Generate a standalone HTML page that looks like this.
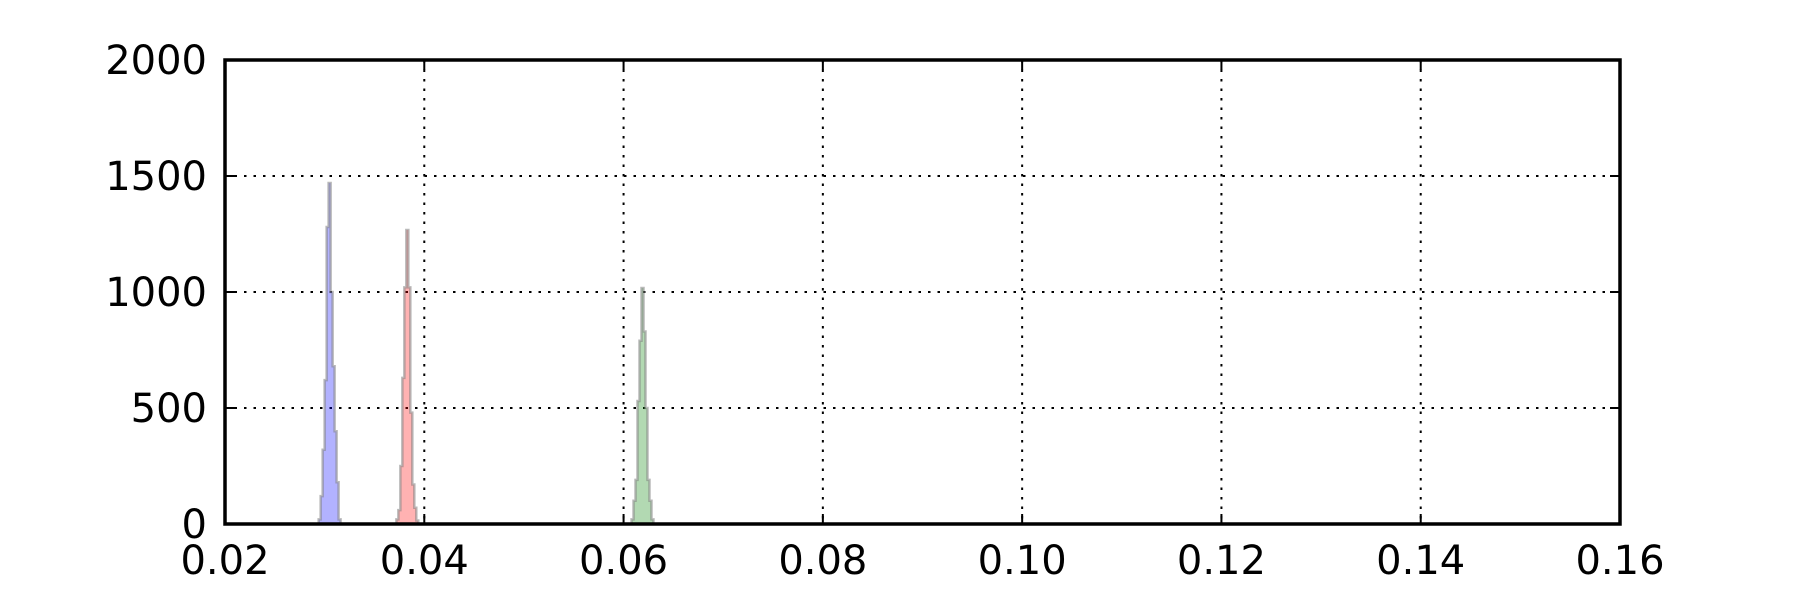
<!DOCTYPE html>
<html><head><meta charset="utf-8"><style>
html,body{margin:0;padding:0;background:#fff;width:1800px;height:600px;overflow:hidden}
text{font-family:"DejaVu Sans","Liberation Sans",sans-serif;font-size:40px;fill:#000}
</style></head><body>
<svg id="chart" width="1800" height="600" viewBox="0 0 1800 600">
<g id="grid"></g>
<g id="bars"></g>
<g id="axes"></g>
</svg>
<script>
const xTicks = [0.02,0.04,0.06,0.08,0.10,0.12,0.14,0.16];
const xTickLabels = ["0.02","0.04","0.06","0.08","0.10","0.12","0.14","0.16"];
const yTicks = [0,500,1000,1500,2000];
const yTickLabels = ["0","500","1000","1500","2000"];
const binWidth = 0.0002;
const blueStart = 0.0294;
const blueCounts = [20,120,320,620,1280,1470,1000,680,400,180,20];
const redStart = 0.0372;
const redCounts = [20,60,250,630,1020,1267,1020,480,170,70,15];
const greenStart = 0.0608;
const greenCounts = [20,100,190,530,790,1017,830,500,190,100,20];

const L=225,R=1620,T=60,B=524;
const X0=0.02,X1=0.16,Y0=0,Y1=2000;
const sx=v=>L+(v-X0)/(X1-X0)*(R-L);
const sy=v=>B-(v-Y0)/(Y1-Y0)*(B-T);
const NS="http://www.w3.org/2000/svg";
function mk(tag,attrs,parent){const e=document.createElementNS(NS,tag);for(const k in attrs)e.setAttribute(k,attrs[k]);parent.appendChild(e);return e;}
const grid=document.getElementById('grid'),bars=document.getElementById('bars'),axes=document.getElementById('axes');

xTicks.forEach((t,i)=>{
  const x=sx(t);
  if(i>0&&i<xTicks.length-1){
    const g=mk('line',{x1:x,x2:x,y1:T,y2:B,stroke:'#000','stroke-width':2,'stroke-dasharray':'2.5,7'},grid);
    
    
  }
  mk('line',{x1:x,x2:x,y1:B,y2:B-10,stroke:'#000','stroke-width':2},axes);
  mk('line',{x1:x,x2:x,y1:T,y2:T+10,stroke:'#000','stroke-width':2},axes);
  const tx=mk('text',{x:x,y:B+50,'text-anchor':'middle'},axes);
  tx.textContent=xTickLabels[i];
  
  
});
yTicks.forEach((t,i)=>{
  const y=sy(t);
  if(i>0&&i<yTicks.length-1){
    const g=mk('line',{x1:L,x2:R,y1:y,y2:y,stroke:'#000','stroke-width':2,'stroke-dasharray':'2.5,7'},grid);
    
    
  }
  mk('line',{x1:L,x2:L+10,y1:y,y2:y,stroke:'#000','stroke-width':2},axes);
  mk('line',{x1:R,x2:R-10,y1:y,y2:y,stroke:'#000','stroke-width':2},axes);
  const tx=mk('text',{x:207,y:y+14,'text-anchor':'end'},axes);
  tx.textContent=yTickLabels[i];
  
  
});

function hist(start,counts,fill,name){
  let d='M'+sx(start)+','+sy(0);
  counts.forEach((c,i)=>{
    const a=sx(start+i*binWidth),b=sx(start+(i+1)*binWidth);
    d+=' L'+a+','+sy(c)+' L'+b+','+sy(c);
  });
  d+=' L'+sx(start+counts.length*binWidth)+','+sy(0)+' Z';
  const p=mk('path',{d:d,fill:fill,stroke:'rgba(128,128,128,0.55)','stroke-width':2.5,'stroke-linejoin':'miter'},bars);
  
  
}
hist(blueStart,blueCounts,'rgba(0,0,255,0.3)','histogram-blue');
hist(redStart,redCounts,'rgba(255,0,0,0.3)','histogram-red');
hist(greenStart,greenCounts,'rgba(0,128,0,0.3)','histogram-green');

const f=mk('rect',{x:L,y:T,width:R-L,height:B-T,fill:'none',stroke:'#000','stroke-width':3.5},axes);


</script>
</body></html>
